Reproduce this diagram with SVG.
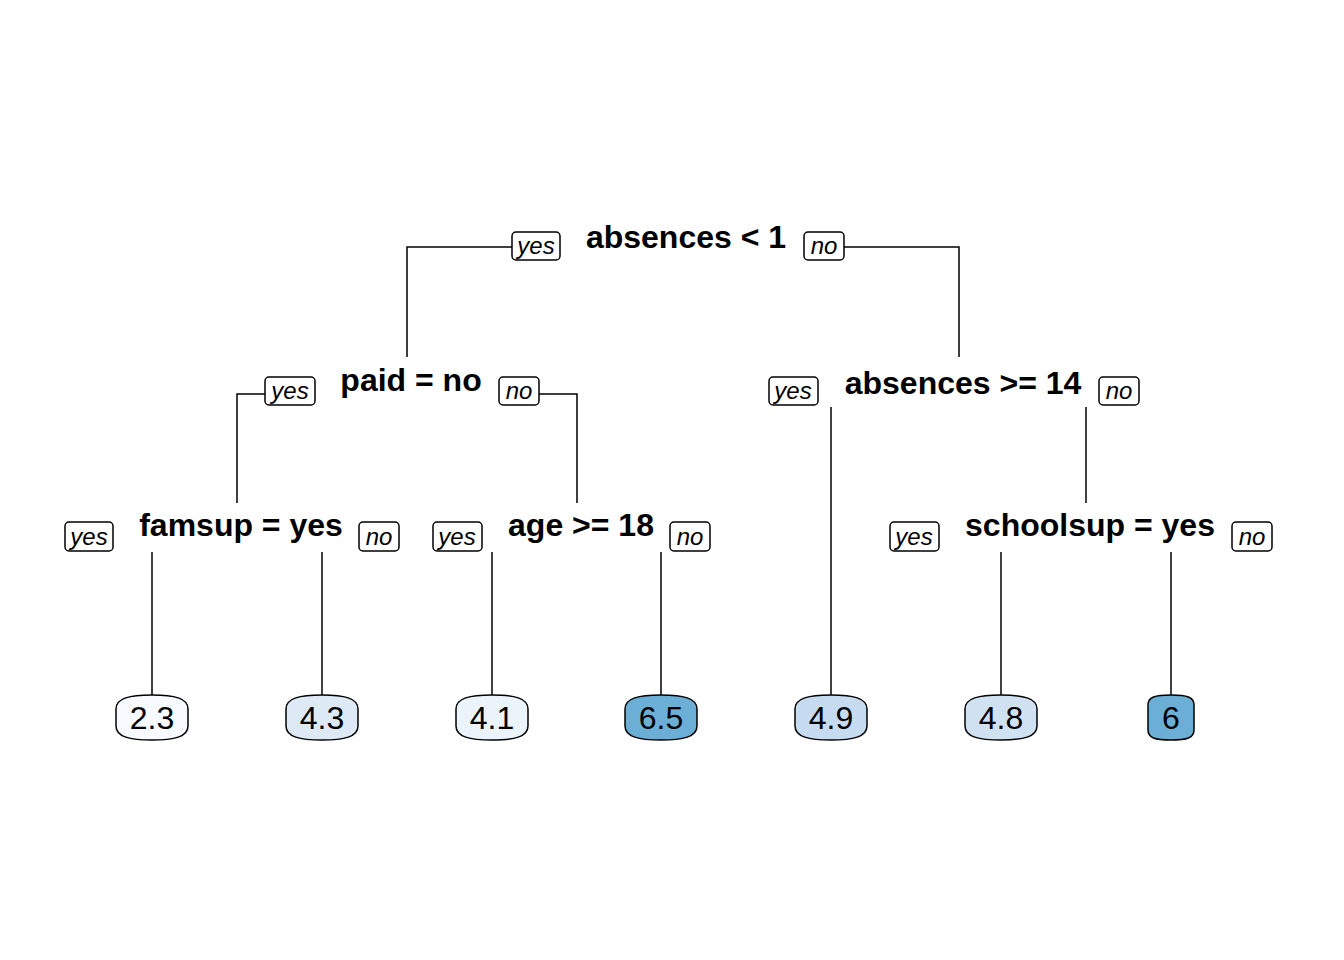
<svg xmlns="http://www.w3.org/2000/svg" width="1344" height="960" viewBox="0 0 1344 960">
<style>
.split{font-family:"Liberation Sans",Arial,sans-serif;font-weight:bold;font-size:32px;text-anchor:middle;fill:#000}
.yn rect{fill:#fff;stroke:#000;stroke-width:1.5}
.yn text{font-family:"Liberation Sans",Arial,sans-serif;font-style:italic;font-size:24px;text-anchor:middle;fill:#000}
.leaf path{stroke:#000;stroke-width:1.5}
.leaf text{font-family:"Liberation Sans",Arial,sans-serif;font-size:32px;text-anchor:middle;fill:#000}
#connectors path{fill:none;stroke:#000;stroke-width:1.5}
</style>
<rect width="1344" height="960" fill="#fff"/>
<g id="connectors">
<path d="M512,247 H407 V357"/>
<path d="M844,247 H959 V357"/>
<path d="M265,394 H237 V503"/>
<path d="M539,394 H577 V503"/>
<path d="M831,407 V697"/>
<path d="M1086,407 V503"/>
<path d="M152,552 V697"/>
<path d="M322,552 V697"/>
<path d="M492,552 V697"/>
<path d="M661,552 V697"/>
<path d="M1001,552 V697"/>
<path d="M1171,552 V697"/>
</g>
<g id="n1">
<text class="split" x="686" y="248">absences &lt; 1</text>
<g class="yn"><rect x="512" y="232" width="48" height="28" rx="4"/><text x="536" y="254">yes</text></g>
<g class="yn"><rect x="804" y="232" width="40" height="28" rx="4"/><text x="824" y="254">no</text></g>
</g>
<g id="n2">
<text class="split" x="411" y="391">paid = no</text>
<g class="yn"><rect x="265" y="377" width="50" height="28" rx="4"/><text x="290" y="399">yes</text></g>
<g class="yn"><rect x="499" y="377" width="40" height="28" rx="4"/><text x="519" y="399">no</text></g>
</g>
<g id="n3">
<text class="split" x="963" y="394">absences &gt;= 14</text>
<g class="yn"><rect x="769" y="377" width="49" height="28" rx="4"/><text x="793" y="399">yes</text></g>
<g class="yn"><rect x="1099" y="377" width="40" height="28" rx="4"/><text x="1119" y="399">no</text></g>
</g>
<g id="n4">
<text class="split" x="241" y="536">famsup = yes</text>
<g class="yn"><rect x="65" y="522" width="48" height="29" rx="4"/><text x="89" y="545">yes</text></g>
<g class="yn"><rect x="359" y="522" width="40" height="29" rx="4"/><text x="379" y="545">no</text></g>
</g>
<g id="n5">
<text class="split" x="581" y="536">age &gt;= 18</text>
<g class="yn"><rect x="433" y="522" width="49" height="29" rx="4"/><text x="457" y="545">yes</text></g>
<g class="yn"><rect x="670" y="522" width="40" height="29" rx="4"/><text x="690" y="545">no</text></g>
</g>
<g id="n6">
<text class="split" x="1090" y="536">schoolsup = yes</text>
<g class="yn"><rect x="890" y="522" width="49" height="29" rx="4"/><text x="914" y="545">yes</text></g>
<g class="yn"><rect x="1232" y="522" width="40" height="29" rx="4"/><text x="1252" y="545">no</text></g>
</g>
<g id="leaf1" class="leaf"><path fill="#f7fbff" d="M116,709 C116,698 130,695 152,695 C174,695 188,698 188,709 V726 C188,737 174,740 152,740 C130,740 116,737 116,726 Z"/><text x="152" y="729">2.3</text></g>
<g id="leaf2" class="leaf"><path fill="#dde9f5" d="M286,709 C286,698 300,695 322,695 C344,695 358,698 358,709 V726 C358,737 344,740 322,740 C300,740 286,737 286,726 Z"/><text x="322" y="729">4.3</text></g>
<g id="leaf3" class="leaf"><path fill="#ebf3fb" d="M456,709 C456,698 470,695 492,695 C514,695 528,698 528,709 V726 C528,737 514,740 492,740 C470,740 456,737 456,726 Z"/><text x="492" y="729">4.1</text></g>
<g id="leaf4" class="leaf"><path fill="#6baed6" d="M625,709 C625,698 639,695 661,695 C683,695 697,698 697,709 V726 C697,737 683,740 661,740 C639,740 625,737 625,726 Z"/><text x="661" y="729">6.5</text></g>
<g id="leaf5" class="leaf"><path fill="#c6dbef" d="M795,709 C795,698 809,695 831,695 C853,695 867,698 867,709 V726 C867,737 853,740 831,740 C809,740 795,737 795,726 Z"/><text x="831" y="729">4.9</text></g>
<g id="leaf6" class="leaf"><path fill="#d0e2f2" d="M965,709 C965,698 979,695 1001,695 C1023,695 1037,698 1037,709 V726 C1037,737 1023,740 1001,740 C979,740 965,737 965,726 Z"/><text x="1001" y="729">4.8</text></g>
<g id="leaf7" class="leaf"><path fill="#6baed6" d="M1148,705 C1148,697 1155,695 1171,695 C1187,695 1194,697 1194,705 V730 C1194,738 1187,740 1171,740 C1155,740 1148,738 1148,730 Z"/><text x="1171" y="729">6</text></g>
</svg>
